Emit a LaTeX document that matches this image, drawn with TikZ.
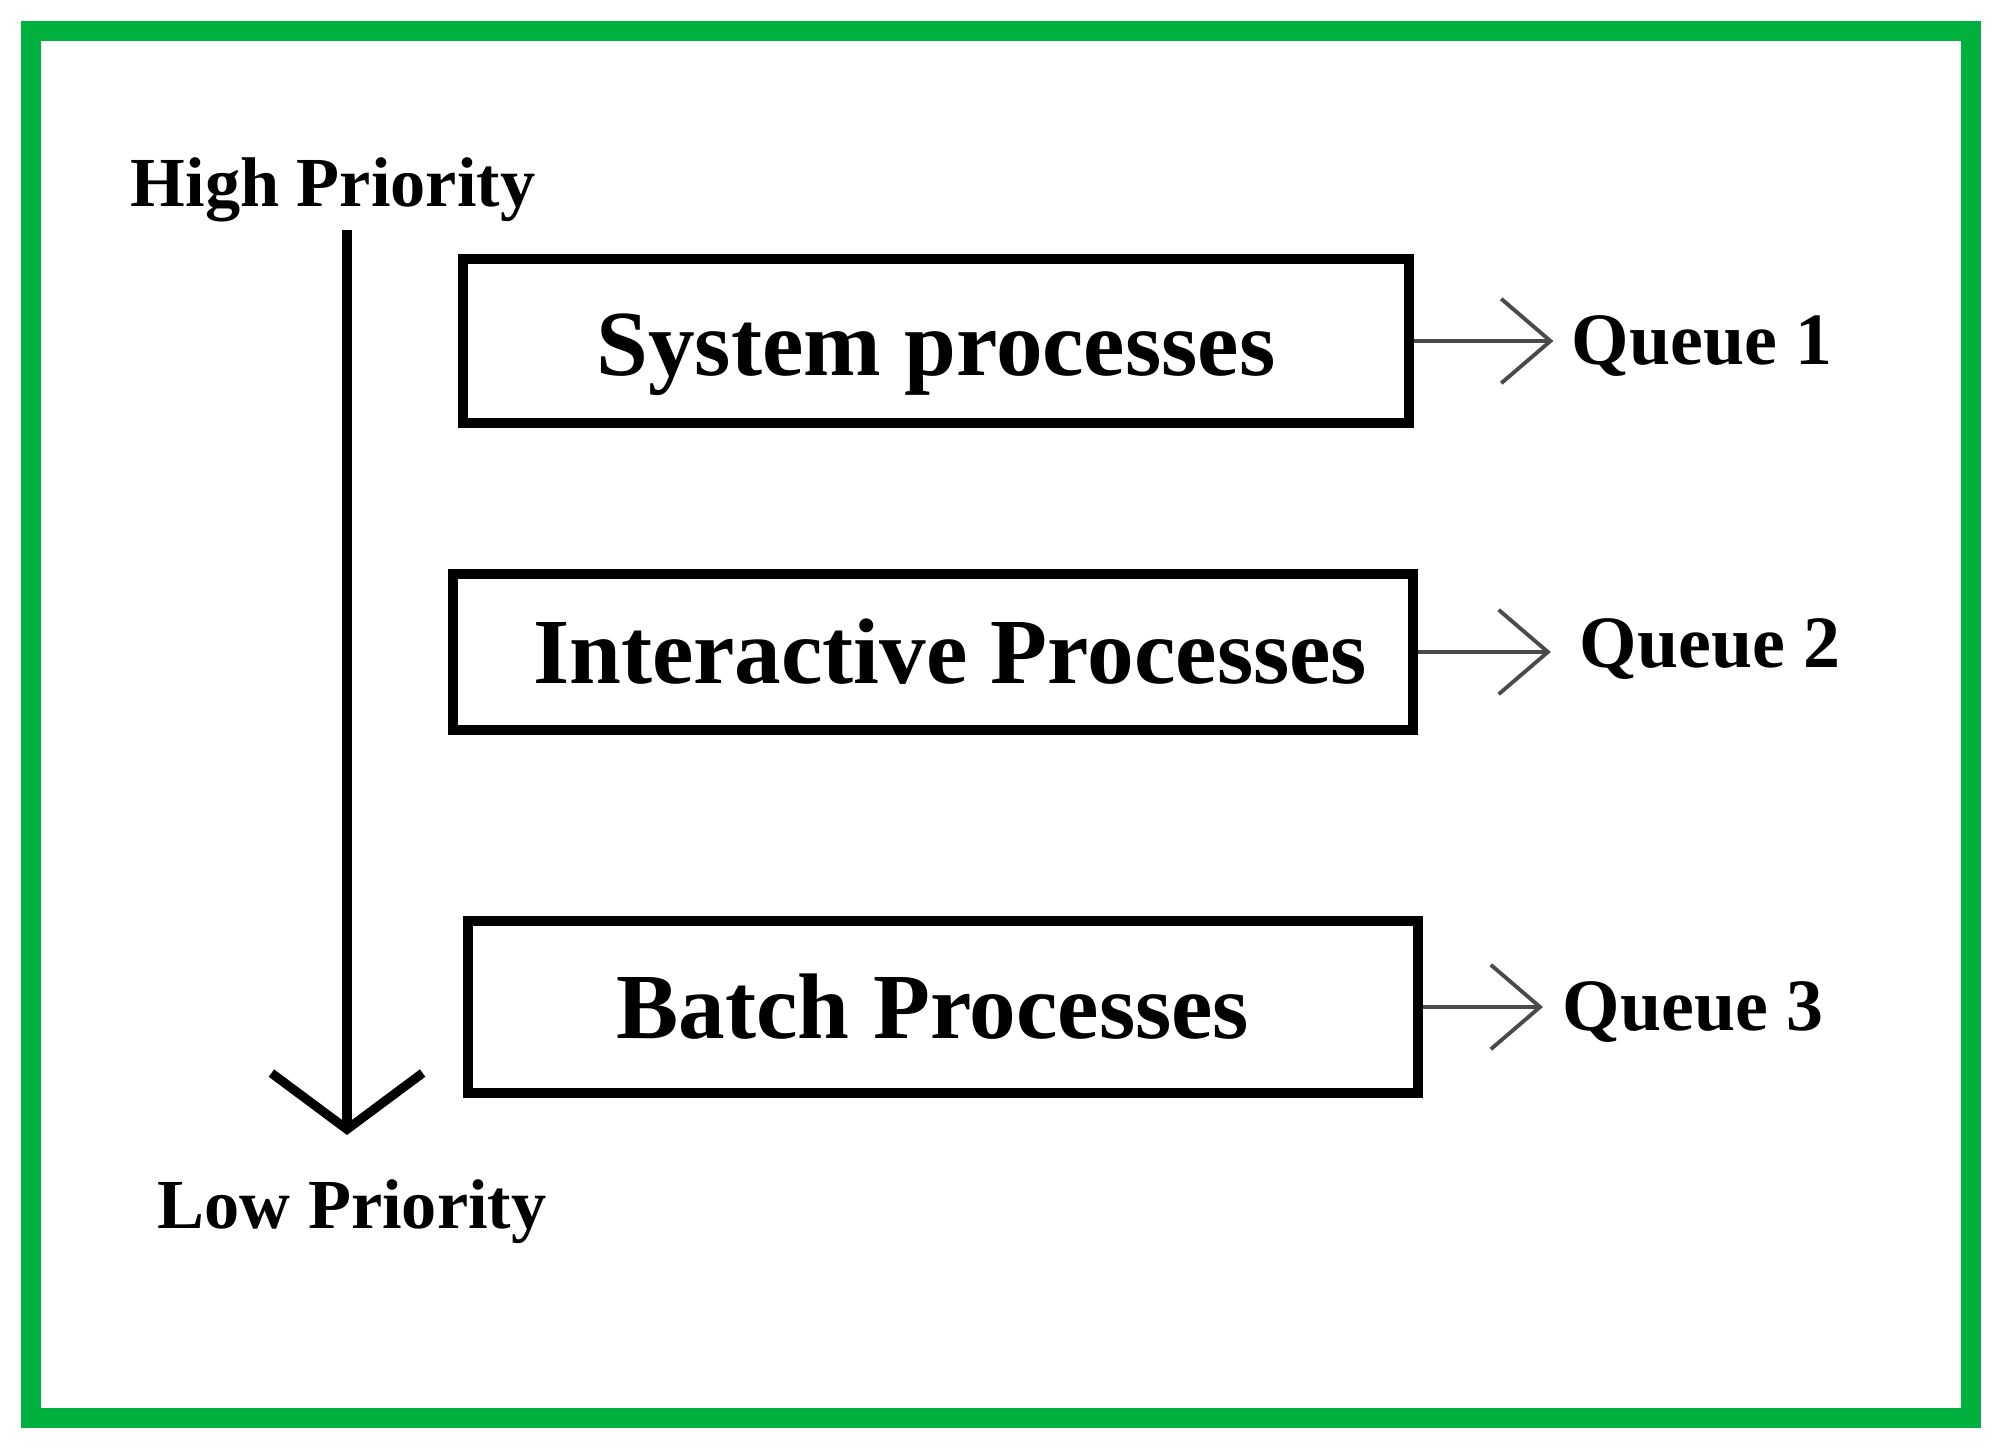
\documentclass[tikz,border=0pt]{standalone}
\usepackage{fontspec}
\setmainfont{Liberation Serif}
\usetikzlibrary{arrows.meta}
\definecolor{frame}{HTML}{00B140}
\definecolor{arrowgray}{HTML}{4A4A4A}
\begin{document}
\begin{tikzpicture}[x=0.01cm,y=-0.01cm,
  procbox/.style={draw=black, line width=2.8pt, font=\bfseries\fontsize{26.5}{30}\selectfont, inner sep=0pt},
  lbl/.style={font=\bfseries\fontsize{20}{24}\selectfont, inner sep=0pt},
  qlbl/.style={font=\bfseries\fontsize{21}{25}\selectfont, inner sep=0pt, anchor=west},
  qarrow/.style={draw=arrowgray, line width=1.1pt, -{Straight Barb[length=14pt,width=24pt]}},
  bigarrow/.style={draw=black, line width=2.6pt, -{Straight Barb[length=16pt,width=43pt]}}
]
\useasboundingbox[fill=white] (0,0) rectangle (2000,1447);
\draw[frame, line width=5.7pt] (31,31) rectangle (1971,1418);

\node[lbl] (hp) at (333,190) {High Priority};
\node[lbl] (lp) at (352,1212) {Low Priority};
\coordinate (atop) at (347,230);
\coordinate (abot) at (347,1135);
\draw[bigarrow] (atop) -- (abot);

\node[procbox, minimum width=9.46cm, minimum height=1.64cm, text height=20pt, text depth=0.4pt] (b1) at (936,341) {System processes};
\node[procbox, minimum width=9.60cm, minimum height=1.56cm] (b2) at (933,652) {\hspace*{9.7pt}Interactive Processes};
\node[procbox, minimum width=9.50cm, minimum height=1.72cm] (b3) at (943,1007) {Batch Processes\hspace*{5.7pt}};

\node[qlbl] (q1) at (1571,346) {Queue 1};
\node[qlbl] (q2) at (1579,649) {Queue 2};
\node[qlbl] (q3) at (1562,1012) {Queue 3};

\draw[qarrow, shorten >=5pt] (b1.east) -- (q1.west |- b1.east);
\draw[qarrow, shorten >=8pt] (b2.east) -- (q2.west |- b2.east);
\draw[qarrow, shorten >=5.4pt] (b3.east) -- (q3.west |- b3.east);
\end{tikzpicture}
\end{document}
